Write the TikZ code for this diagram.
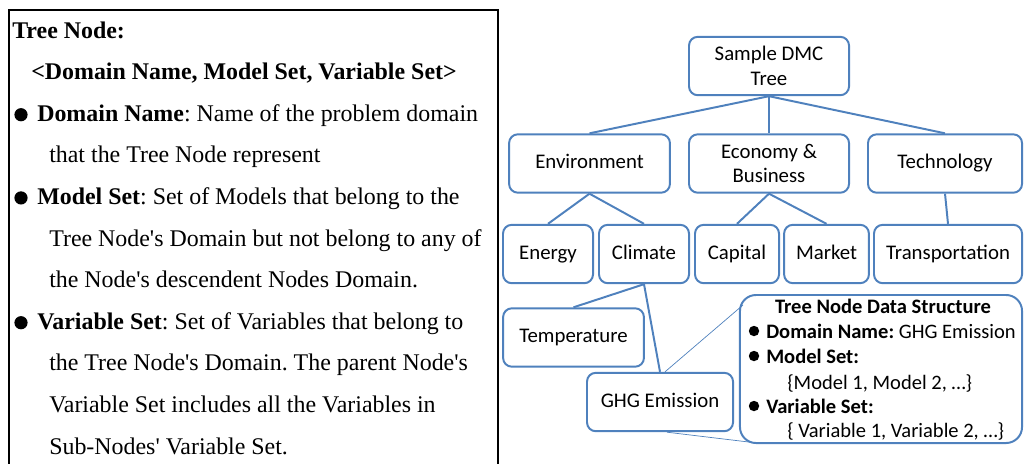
\documentclass[tikz,border=0pt]{standalone}
\usepackage{fontspec}
\setmainfont{Liberation Serif}
\newfontfamily\calfont{Carlito}
\usetikzlibrary{calc}
\definecolor{treeBlue}{HTML}{4F81BD}
\frenchspacing
\tikzset{
    treenode/.style={
        draw=treeBlue,
        fill=white,
        rectangle,
        rounded corners=2.2mm,
        line width=1.4pt,
        align=center,
        inner sep=0pt,
        minimum height=1.46cm,
        font=\calfont\fontsize{14.8}{17.6}\selectfont
    },
    oneline/.style={
        text height=2ex,
        text depth=0.3ex
    },
    branch/.style={
        draw=treeBlue,
        line width=1.4pt
    },
    zoomline/.style={
        draw=treeBlue,
        line width=0.5pt
    },
    descline/.style={
        anchor=base west,
        inner sep=0pt,
        font=\fontsize{17}{20}\selectfont
    },
    infoline/.style={
        anchor=base west,
        inner sep=0pt,
        font=\calfont\fontsize{14.6}{17.4}\selectfont
    },
    bigdot/.style={circle, fill=black, inner sep=0pt, minimum size=0.33cm},
    smalldot/.style={circle, fill=black, inner sep=0pt, minimum size=0.26cm}
}

\begin{document}
\begin{tikzpicture}[x=0.025cm, y=-0.025cm]
    \useasboundingbox (0,0) rectangle (1024,463);
    \clip (0,0) rectangle (1024,463);

    % Left description box
    \draw[line width=1.2pt] (9,10) rectangle (498,480);
    \foreach \i/\dx/\txt in {
        0/12/{\textbf{Tree Node:}},
        1/31/{\textbf{<Domain Name, Model Set, Variable Set>}},
        2/37/{\textbf{Domain Name}: Name of the problem domain},
        3/49/{that the Tree Node represent},
        4/37/{\textbf{Model Set}: Set of Models that belong to the},
        5/49/{Tree Node\textquotesingle s Domain but not belong to any of},
        6/49/{the Node\textquotesingle s descendent Nodes Domain.},
        7/37/{\textbf{Variable Set}: Set of Variables that belong to},
        8/49/{the Tree Node\textquotesingle s Domain. The parent Node\textquotesingle s},
        9/49/{Variable Set includes all the Variables in},
        10/49/{Sub-Nodes\textquotesingle\ Variable Set.}}
        \node[descline] (desc\i) at (\dx, 38+41.6*\i) {\txt};
    \foreach \i in {2,4,7}
        \node[bigdot] (dot\i) at (21, 31.5+41.6*\i) {};

    % Tree
    \node[treenode, minimum width=4cm] (root) at (769,66) {Sample DMC\\Tree};
    \node[treenode, oneline, minimum width=4.02cm] (env) at (589.5,163.5) {Environment};
    \node[treenode, minimum width=4cm] (econ) at (769,163.5) {Economy \&\\Business};
    \node[treenode, oneline, minimum width=3.85cm] (tech) at (945,163.5) {Technology};
    \node[treenode, oneline, minimum width=2.25cm] (energy) at (548,254) {Energy};
    \node[treenode, oneline, minimum width=2.25cm] (climate) at (644,254) {Climate};
    \node[treenode, oneline, minimum width=2.1cm] (capital) at (737,254) {Capital};
    \node[treenode, oneline, minimum width=2.12cm] (market) at (826.5,254) {Market};
    \node[treenode, oneline, minimum width=3.7cm] (transport) at (948,254) {Transportation};
    \node[treenode, oneline, minimum width=3.52cm] (temp) at (573.5,337.5) {Temperature};
    \node[treenode, oneline, minimum width=3.65cm] (ghg) at (660,402) {GHG Emission};

    % Branches
    \draw[branch] (root.south) -- (env.north);
    \draw[branch] (root.south) -- (econ.north);
    \draw[branch] (root.south) -- (tech.north);
    \draw[branch] (env.south) -- (energy.north);
    \draw[branch] (env.south) -- (climate.north);
    \draw[branch] (econ.south) -- (capital.north);
    \draw[branch] (econ.south) -- (market.north);
    \draw[branch] (tech.south) -- (transport.north);
    \draw[branch] (climate.south) -- (temp.north);
    \draw[branch] (climate.south) -- (ghg.north);

    % Data structure callout
    \node[treenode, rounded corners=4mm, minimum width=7.05cm, minimum height=3.7cm]
        (info) at (881,369) {};
    \coordinate (infotop) at (743,305);
    \coordinate (infobot) at (757,443);
    \draw[zoomline] ($(ghg.north)+(5,0)$) -- (infotop);
    \draw[zoomline] ($(ghg.south)+(7,0)$) -- (infobot);
    \node[infoline, anchor=base] (info0) at (883,313) {\textbf{Tree Node Data Structure}};
    \node[infoline] (info1) at (766,338) {\textbf{Domain Name:} GHG Emission};
    \node[infoline] (info2) at (766,363) {\textbf{Model Set:}};
    \node[infoline] (info3) at (787,389) {\{Model 1, Model 2, \ldots\}};
    \node[infoline] (info4) at (766,413) {\textbf{Variable Set:}};
    \node[infoline] (info5) at (787,437) {\{ Variable 1, Variable 2, \ldots\}};
    \foreach \i/\yy in {1/338, 2/363, 4/413}
        \node[smalldot] (idot\i) at (754, \yy-7) {};
\end{tikzpicture}
\end{document}
